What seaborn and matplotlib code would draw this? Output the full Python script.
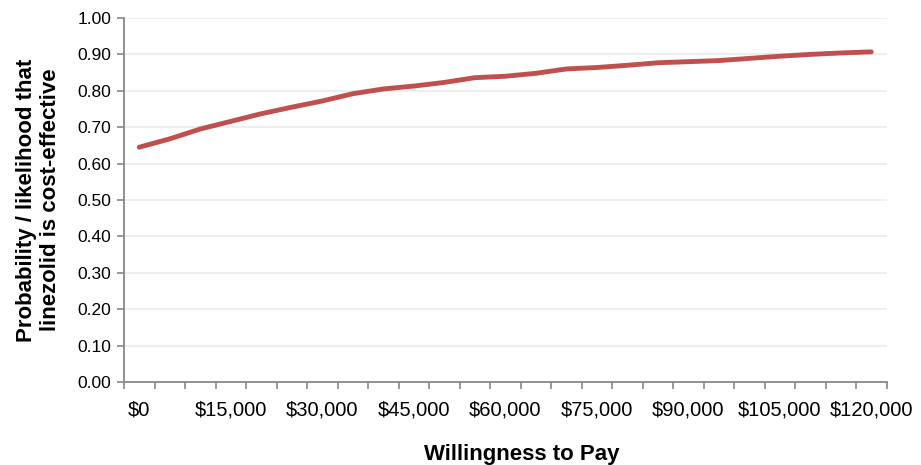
import pandas as pd
import matplotlib.pyplot as plt
import seaborn as sns
from matplotlib.ticker import FixedLocator, FuncFormatter

# Willingness to pay (USD) and probability linezolid is cost-effective
wtp = [0, 5000, 10000, 15000, 20000, 25000, 30000, 35000, 40000, 45000,
       50000, 55000, 60000, 65000, 70000, 75000, 80000, 85000, 90000, 95000,
       100000, 105000, 110000, 115000, 120000]
prob = [0.645, 0.668, 0.695, 0.716, 0.737, 0.755, 0.772, 0.792, 0.805, 0.813,
        0.823, 0.836, 0.840, 0.848, 0.860, 0.864, 0.870, 0.877, 0.880, 0.883,
        0.889, 0.895, 0.900, 0.904, 0.907]
label_wtp = [0, 15000, 30000, 45000, 60000, 75000, 90000, 105000, 120000]

df = pd.DataFrame({"wtp": wtp, "prob": prob})

sns.set_style("white")
plt.rcParams['font.family'] = ['Liberation Sans', 'DejaVu Sans']

fig = plt.figure(figsize=(9.21, 4.65), dpi=100)
ax = fig.add_axes([124 / 921, 1 - 382 / 465, (886.5 - 124) / 921, (382 - 18) / 465])

sns.lineplot(data=df, x="wtp", y="prob", color="#c0504d", linewidth=3.5,
             solid_capstyle="round", ax=ax)

ax.set_xlim(-2500, 122500)
ax.set_ylim(0, 1.0)

# y axis
ax.set_yticks([i / 10 for i in range(11)])
ax.yaxis.set_major_formatter(FuncFormatter(lambda v, p: f"{v:.2f}"))
ax.grid(axis="y", color="#ebebeb", linewidth=1.2)
ax.grid(axis="x", visible=False)

# x axis: category-style ticks between points, labels every third point
ax.set_xticks(label_wtp)
ax.set_xticklabels([f"${v:,}" for v in label_wtp])
ax.xaxis.set_minor_locator(FixedLocator([w - 2500 for w in wtp] + [122500]))
ax.tick_params(axis="x", which="major", length=0, pad=13, labelsize=14.5, labelcolor="black")
ax.tick_params(axis="x", which="minor", length=5, width=1.2, color="#888888", bottom=True)
ax.tick_params(axis="y", which="major", length=5, width=1.2, color="#888888", left=True,
               labelsize=12.5, pad=4, labelcolor="black")

for side in ["top", "right"]:
    ax.spines[side].set_visible(False)
for side in ["left", "bottom"]:
    ax.spines[side].set_color("#888888")
    ax.spines[side].set_linewidth(1.3)

ax.set_xlabel("Willingness to Pay", fontsize=16, fontweight="bold", labelpad=18, color="black")
ax.xaxis.label.set_x(0.521)
ax.set_ylabel("Probability / likelihood that\nlinezolid is cost-effective",
              fontsize=16, fontweight="bold", labelpad=12, linespacing=1.17, color="black")

fig.savefig("out.png", dpi=100)
